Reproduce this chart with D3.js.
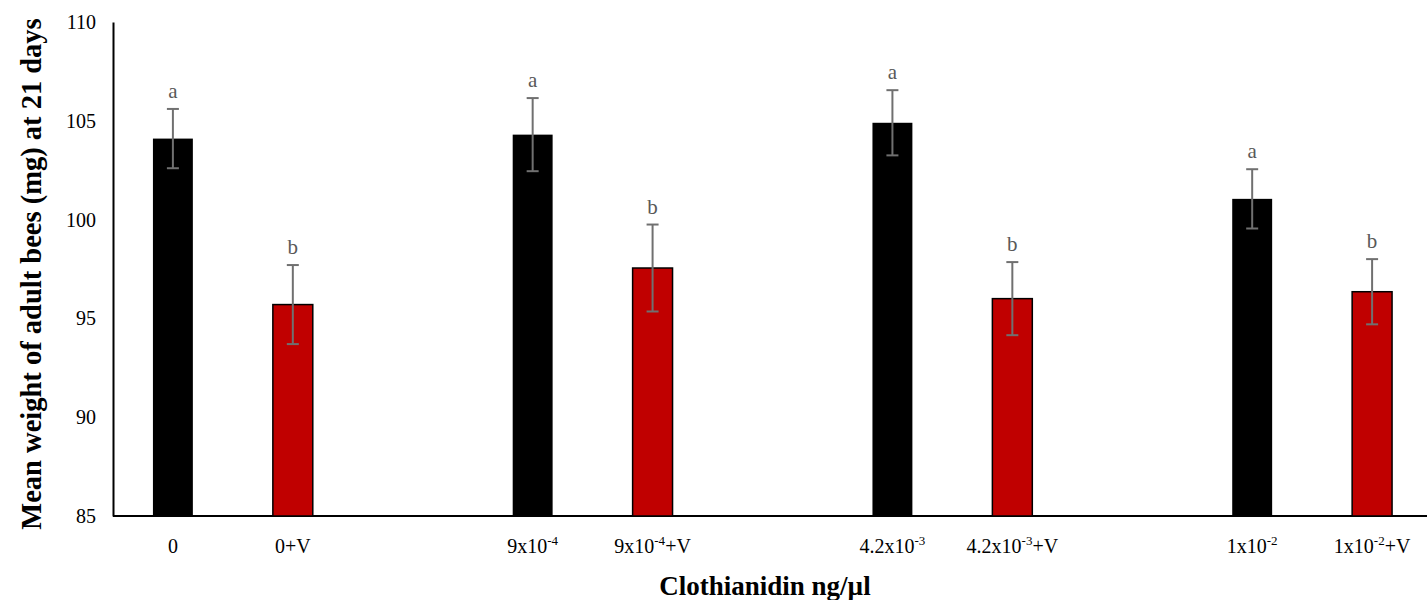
<!DOCTYPE html>
<html>
<head>
<meta charset="utf-8">
<script src="https://cdn.jsdelivr.net/npm/d3@7"></script>
<style>
  body { margin: 0; background: #fff; }
  svg { display: block; font-family: "Liberation Serif", "Times New Roman", serif; }
</style>
</head>
<body>
<div id="chart"></div>
<script>
// Dados
const categories = ["0", "0+V", "9x10-4", "9x10-4+V", "4.2x10-3", "4.2x10-3+V", "1x10-2", "1x10-2+V"];
// partes do rótulo: base, expoente, sufixo
const labelBase = ["0", "0+V", "9x10", "9x10", "4.2x10", "4.2x10", "1x10", "1x10"];
const labelExp  = ["", "", "-4", "-4", "-3", "-3", "-2", "-2"];
const labelSuffix = ["", "", "", "+V", "", "+V", "", "+V"];
// posição de cada barra no eixo (com espaços vazios entre grupos)
const slots = [0, 1, 3, 4, 6, 7, 9, 10];
const means  = [104.1, 95.7, 104.3, 97.55, 104.9, 96.0, 101.05, 96.35];
const errors = [1.5, 2.0, 1.85, 2.2, 1.65, 1.85, 1.5, 1.65];
const letters = ["a", "b", "a", "b", "a", "b", "a", "b"];
const withV = [false, true, false, true, false, true, false, true];
const yTicks = [85, 90, 95, 100, 105, 110];

const width = 1427, height = 600;
const margin = {top: 22, right: -5, bottom: 84, left: 113};

const svg = d3.select("#chart").append("svg")
  .attr("width", width)
  .attr("height", height);

const x = d3.scaleBand()
  .domain(d3.range(11))
  .range([margin.left, width - margin.right])
  .paddingInner(0.667)
  .paddingOuter(0.333);

const y = d3.scaleLinear()
  .domain([85, 110])
  .range([height - margin.bottom, margin.top]);

// Eixo Y
const yAxis = d3.axisLeft(y).tickValues(yTicks).tickSize(0).tickPadding(17);
const gy = svg.append("g")
  .attr("transform", `translate(${margin.left},0)`)
  .call(yAxis);
gy.select(".domain").attr("stroke", "#000").attr("stroke-width", 2);
gy.selectAll("text")
  .attr("font-family", "Liberation Serif, serif")
  .attr("font-size", 20)
  .attr("fill", "#000");

// Eixo X (linha base)
svg.append("line")
  .attr("x1", margin.left)
  .attr("x2", width)
  .attr("y1", y(85))
  .attr("y2", y(85))
  .attr("stroke", "#000")
  .attr("stroke-width", 2);

// Barras
const bars = svg.append("g");
bars.selectAll("rect")
  .data(categories)
  .enter()
  .append("rect")
  .attr("x", (d, i) => x(slots[i]))
  .attr("width", x.bandwidth())
  .attr("y", (d, i) => y(means[i]))
  .attr("height", (d, i) => y(85) - y(means[i]))
  .attr("fill", (d, i) => withV[i] ? "#c00000" : "#000")
  .attr("stroke", "#000")
  .attr("stroke-width", (d, i) => withV[i] ? 1.5 : 0);

// Barras de erro
const err = svg.append("g").attr("stroke", "#707070").attr("stroke-width", 2);
categories.forEach((c, i) => {
  const cx = x(slots[i]) + x.bandwidth() / 2;
  const top = y(means[i] + errors[i]);
  const bot = y(means[i] - errors[i]);
  err.append("line").attr("x1", cx).attr("x2", cx).attr("y1", top).attr("y2", bot);
  err.append("line").attr("x1", cx - 6).attr("x2", cx + 6).attr("y1", top).attr("y2", top);
  err.append("line").attr("x1", cx - 6).attr("x2", cx + 6).attr("y1", bot).attr("y2", bot);
});

// Letras de significância
svg.append("g").selectAll("text")
  .data(letters)
  .enter()
  .append("text")
  .attr("x", (d, i) => x(slots[i]) + x.bandwidth() / 2)
  .attr("y", (d, i) => y(means[i] + errors[i]) - 11)
  .attr("text-anchor", "middle")
  .attr("font-size", 21)
  .attr("fill", "#595959")
  .text(d => d);

// Rótulos do eixo X com expoente
const xl = svg.append("g");
categories.forEach((c, i) => {
  const t = xl.append("text")
    .attr("x", x(slots[i]) + x.bandwidth() / 2)
    .attr("y", 553)
    .attr("text-anchor", "middle")
    .attr("font-size", 20)
    .attr("fill", "#000");
  t.append("tspan").text(labelBase[i]);
  if (labelExp[i]) {
    t.append("tspan").attr("dy", -8).attr("font-size", 13).text(labelExp[i]);
    if (labelSuffix[i]) t.append("tspan").attr("dy", 8).text(labelSuffix[i]);
  }
});

// Títulos dos eixos
svg.append("text")
  .attr("x", 765)
  .attr("y", 595)
  .attr("text-anchor", "middle")
  .attr("font-size", 27)
  .attr("font-weight", "bold")
  .text("Clothianidin ng/µl");

svg.append("text")
  .attr("transform", `translate(41,274) rotate(-90)`)
  .attr("text-anchor", "middle")
  .attr("font-size", 28.5)
  .attr("font-weight", "bold")
  .text("Mean weight of adult bees (mg) at 21 days");
</script>
</body>
</html>
